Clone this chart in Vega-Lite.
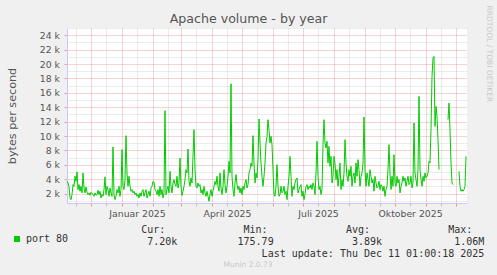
{
  "$schema": "https://vega.github.io/schema/vega-lite/v6.json",
  "width": 400,
  "height": 175,
  "autosize": {"type": "none"},
  "padding": {"left": 67, "top": 28, "right": 30, "bottom": 72},
  "background": "#f0f0f0",
  "config": {
    "view": {"fill": "#ffffff", "stroke": null},
    "font": "DejaVu Sans",
    "axis": {"labelFont": "DejaVu Sans", "labelFontSize": 9.3, "labelColor": "#555555", "titleFontWeight": "normal", "titleFont": "DejaVu Sans", "domainColor": "#c8c8f8", "domainWidth": 1}
  },
  "title": {"text": "Apache volume - by year", "fontSize": 12.6, "font": "DejaVu Sans", "fontWeight": "normal", "color": "#555555", "anchor": "middle", "frame": "group", "dx": -18.4, "offset": -31, "baseline": "alphabetic"},
  "data": {"values": [
{"date":"2024-11-07","bytes":3710},{"date":"2024-11-08","bytes":3480},{"date":"2024-11-09","bytes":3020},{"date":"2024-11-10","bytes":1400},{"date":"2024-11-11","bytes":1170},{"date":"2024-11-12","bytes":1870},{"date":"2024-11-13","bytes":3250},{"date":"2024-11-14","bytes":3020},{"date":"2024-11-15","bytes":4410},{"date":"2024-11-16","bytes":3710},{"date":"2024-11-17","bytes":5010},{"date":"2024-11-18","bytes":2560},{"date":"2024-11-19","bytes":3250},{"date":"2024-11-20","bytes":2330},{"date":"2024-11-21","bytes":3020},{"date":"2024-11-22","bytes":2100},{"date":"2024-11-23","bytes":4870},{"date":"2024-11-24","bytes":2790},{"date":"2024-11-25","bytes":2100},{"date":"2024-11-26","bytes":2930},{"date":"2024-11-27","bytes":2190},{"date":"2024-11-28","bytes":1870},{"date":"2024-11-29","bytes":2100},{"date":"2024-11-30","bytes":1770},
{"date":"2024-12-01","bytes":2190},{"date":"2024-12-02","bytes":2000},{"date":"2024-12-03","bytes":1870},{"date":"2024-12-04","bytes":1630},{"date":"2024-12-05","bytes":2100},{"date":"2024-12-06","bytes":1770},{"date":"2024-12-07","bytes":1870},{"date":"2024-12-08","bytes":2470},{"date":"2024-12-09","bytes":1870},{"date":"2024-12-10","bytes":2330},{"date":"2024-12-11","bytes":1400},{"date":"2024-12-12","bytes":1870},{"date":"2024-12-13","bytes":1630},{"date":"2024-12-14","bytes":2560},{"date":"2024-12-15","bytes":4320},{"date":"2024-12-16","bytes":1870},{"date":"2024-12-17","bytes":3020},{"date":"2024-12-18","bytes":2560},{"date":"2024-12-19","bytes":1630},{"date":"2024-12-20","bytes":2790},{"date":"2024-12-21","bytes":2100},{"date":"2024-12-22","bytes":1630},{"date":"2024-12-23","bytes":8480},{"date":"2024-12-24","bytes":1870},{"date":"2024-12-25","bytes":1170},{"date":"2024-12-26","bytes":1630},{"date":"2024-12-27","bytes":2560},{"date":"2024-12-28","bytes":2100},{"date":"2024-12-29","bytes":3020},{"date":"2024-12-30","bytes":1630},{"date":"2024-12-31","bytes":2560},
{"date":"2025-01-01","bytes":8110},{"date":"2025-01-02","bytes":3020},{"date":"2025-01-03","bytes":2560},{"date":"2025-01-04","bytes":3950},{"date":"2025-01-05","bytes":10050},{"date":"2025-01-06","bytes":4870},{"date":"2025-01-07","bytes":3020},{"date":"2025-01-08","bytes":4410},{"date":"2025-01-09","bytes":3020},{"date":"2025-01-10","bytes":2330},{"date":"2025-01-11","bytes":2560},{"date":"2025-01-12","bytes":2100},{"date":"2025-01-13","bytes":2330},{"date":"2025-01-14","bytes":1870},{"date":"2025-01-15","bytes":2100},{"date":"2025-01-16","bytes":1630},{"date":"2025-01-17","bytes":1870},{"date":"2025-01-18","bytes":1400},{"date":"2025-01-19","bytes":2100},{"date":"2025-01-20","bytes":1630},{"date":"2025-01-21","bytes":2330},{"date":"2025-01-22","bytes":2560},{"date":"2025-01-23","bytes":1630},{"date":"2025-01-24","bytes":2100},{"date":"2025-01-25","bytes":2560},{"date":"2025-01-26","bytes":1400},{"date":"2025-01-27","bytes":1870},{"date":"2025-01-28","bytes":2330},{"date":"2025-01-29","bytes":1630},{"date":"2025-01-30","bytes":2790},{"date":"2025-01-31","bytes":3020},
{"date":"2025-02-01","bytes":3710},{"date":"2025-02-02","bytes":3580},{"date":"2025-02-03","bytes":2560},{"date":"2025-02-04","bytes":2330},{"date":"2025-02-05","bytes":1870},{"date":"2025-02-06","bytes":2560},{"date":"2025-02-07","bytes":1630},{"date":"2025-02-08","bytes":3020},{"date":"2025-02-09","bytes":1870},{"date":"2025-02-10","bytes":2560},{"date":"2025-02-11","bytes":1400},{"date":"2025-02-12","bytes":2100},{"date":"2025-02-13","bytes":13520},{"date":"2025-02-14","bytes":1870},{"date":"2025-02-15","bytes":2560},{"date":"2025-02-16","bytes":3020},{"date":"2025-02-17","bytes":2100},{"date":"2025-02-18","bytes":5100},{"date":"2025-02-19","bytes":3020},{"date":"2025-02-20","bytes":2100},{"date":"2025-02-21","bytes":3480},{"date":"2025-02-22","bytes":3950},{"date":"2025-02-23","bytes":3250},{"date":"2025-02-24","bytes":3020},{"date":"2025-02-25","bytes":4410},{"date":"2025-02-26","bytes":2790},{"date":"2025-02-27","bytes":3480},{"date":"2025-02-28","bytes":6950},
{"date":"2025-03-01","bytes":3020},{"date":"2025-03-02","bytes":1730},{"date":"2025-03-03","bytes":2330},{"date":"2025-03-04","bytes":3020},{"date":"2025-03-05","bytes":3950},{"date":"2025-03-06","bytes":5330},{"date":"2025-03-07","bytes":4870},{"date":"2025-03-08","bytes":8200},{"date":"2025-03-09","bytes":3710},{"date":"2025-03-10","bytes":3020},{"date":"2025-03-11","bytes":4180},{"date":"2025-03-12","bytes":3480},{"date":"2025-03-13","bytes":7180},{"date":"2025-03-14","bytes":10880},{"date":"2025-03-15","bytes":5330},{"date":"2025-03-16","bytes":3020},{"date":"2025-03-17","bytes":2790},{"date":"2025-03-18","bytes":3480},{"date":"2025-03-19","bytes":3020},{"date":"2025-03-20","bytes":3250},{"date":"2025-03-21","bytes":2100},{"date":"2025-03-22","bytes":2560},{"date":"2025-03-23","bytes":1870},{"date":"2025-03-24","bytes":3020},{"date":"2025-03-25","bytes":2100},{"date":"2025-03-26","bytes":1630},{"date":"2025-03-27","bytes":2330},{"date":"2025-03-28","bytes":1630},{"date":"2025-03-29","bytes":940},{"date":"2025-03-30","bytes":1870},{"date":"2025-03-31","bytes":2560},
{"date":"2025-04-01","bytes":1630},{"date":"2025-04-02","bytes":2330},{"date":"2025-04-03","bytes":3020},{"date":"2025-04-04","bytes":3710},{"date":"2025-04-05","bytes":3250},{"date":"2025-04-06","bytes":4410},{"date":"2025-04-07","bytes":3020},{"date":"2025-04-08","bytes":2330},{"date":"2025-04-09","bytes":4870},{"date":"2025-04-10","bytes":2790},{"date":"2025-04-11","bytes":1870},{"date":"2025-04-12","bytes":3020},{"date":"2025-04-13","bytes":5330},{"date":"2025-04-14","bytes":3250},{"date":"2025-04-15","bytes":2100},{"date":"2025-04-16","bytes":3020},{"date":"2025-04-17","bytes":4410},{"date":"2025-04-18","bytes":6490},{"date":"2025-04-19","bytes":4870},{"date":"2025-04-20","bytes":17260},{"date":"2025-04-21","bytes":4410},{"date":"2025-04-22","bytes":2560},{"date":"2025-04-23","bytes":1630},{"date":"2025-04-24","bytes":3480},{"date":"2025-04-25","bytes":4640},{"date":"2025-04-26","bytes":3250},{"date":"2025-04-27","bytes":2560},{"date":"2025-04-28","bytes":3020},{"date":"2025-04-29","bytes":2100},{"date":"2025-04-30","bytes":2790},
{"date":"2025-05-01","bytes":1870},{"date":"2025-05-02","bytes":3020},{"date":"2025-05-03","bytes":2560},{"date":"2025-05-04","bytes":3480},{"date":"2025-05-05","bytes":3950},{"date":"2025-05-06","bytes":2790},{"date":"2025-05-07","bytes":3250},{"date":"2025-05-08","bytes":4870},{"date":"2025-05-09","bytes":5330},{"date":"2025-05-10","bytes":6260},{"date":"2025-05-11","bytes":5790},{"date":"2025-05-12","bytes":10050},{"date":"2025-05-13","bytes":6260},{"date":"2025-05-14","bytes":3480},{"date":"2025-05-15","bytes":4870},{"date":"2025-05-16","bytes":4180},{"date":"2025-05-17","bytes":6720},{"date":"2025-05-18","bytes":12360},{"date":"2025-05-19","bytes":9030},{"date":"2025-05-20","bytes":6260},{"date":"2025-05-21","bytes":4410},{"date":"2025-05-22","bytes":3020},{"date":"2025-05-23","bytes":4410},{"date":"2025-05-24","bytes":6260},{"date":"2025-05-25","bytes":9030},{"date":"2025-05-26","bytes":9960},{"date":"2025-05-27","bytes":12270},{"date":"2025-05-28","bytes":10880},{"date":"2025-05-29","bytes":9030},{"date":"2025-05-30","bytes":9960},{"date":"2025-05-31","bytes":8800},
{"date":"2025-06-01","bytes":5330},{"date":"2025-06-02","bytes":1870},{"date":"2025-06-03","bytes":1630},{"date":"2025-06-04","bytes":3020},{"date":"2025-06-05","bytes":6030},{"date":"2025-06-06","bytes":3020},{"date":"2025-06-07","bytes":1630},{"date":"2025-06-08","bytes":1870},{"date":"2025-06-09","bytes":3020},{"date":"2025-06-10","bytes":2100},{"date":"2025-06-11","bytes":2330},{"date":"2025-06-12","bytes":3020},{"date":"2025-06-13","bytes":1870},{"date":"2025-06-14","bytes":2330},{"date":"2025-06-15","bytes":1170},{"date":"2025-06-16","bytes":3020},{"date":"2025-06-17","bytes":4410},{"date":"2025-06-18","bytes":7180},{"date":"2025-06-19","bytes":4410},{"date":"2025-06-20","bytes":1630},{"date":"2025-06-21","bytes":3020},{"date":"2025-06-22","bytes":2560},{"date":"2025-06-23","bytes":3480},{"date":"2025-06-24","bytes":3950},{"date":"2025-06-25","bytes":4180},{"date":"2025-06-26","bytes":2100},{"date":"2025-06-27","bytes":2560},{"date":"2025-06-28","bytes":3020},{"date":"2025-06-29","bytes":3250},{"date":"2025-06-30","bytes":1630},
{"date":"2025-07-01","bytes":2330},{"date":"2025-07-02","bytes":1170},{"date":"2025-07-03","bytes":1870},{"date":"2025-07-04","bytes":3020},{"date":"2025-07-05","bytes":3250},{"date":"2025-07-06","bytes":2560},{"date":"2025-07-07","bytes":3020},{"date":"2025-07-08","bytes":2790},{"date":"2025-07-09","bytes":3250},{"date":"2025-07-10","bytes":2560},{"date":"2025-07-11","bytes":3480},{"date":"2025-07-12","bytes":3020},{"date":"2025-07-13","bytes":1870},{"date":"2025-07-14","bytes":4870},{"date":"2025-07-15","bytes":9260},{"date":"2025-07-16","bytes":4410},{"date":"2025-07-17","bytes":2560},{"date":"2025-07-18","bytes":3020},{"date":"2025-07-19","bytes":1870},{"date":"2025-07-20","bytes":2560},{"date":"2025-07-21","bytes":8800},{"date":"2025-07-22","bytes":12270},{"date":"2025-07-23","bytes":9030},{"date":"2025-07-24","bytes":8340},{"date":"2025-07-25","bytes":9260},{"date":"2025-07-26","bytes":6260},{"date":"2025-07-27","bytes":8570},{"date":"2025-07-28","bytes":5790},{"date":"2025-07-29","bytes":7180},{"date":"2025-07-30","bytes":3480},{"date":"2025-07-31","bytes":4410},
{"date":"2025-08-01","bytes":7180},{"date":"2025-08-02","bytes":6260},{"date":"2025-08-03","bytes":3950},{"date":"2025-08-04","bytes":5330},{"date":"2025-08-05","bytes":3020},{"date":"2025-08-06","bytes":4410},{"date":"2025-08-07","bytes":6260},{"date":"2025-08-08","bytes":2560},{"date":"2025-08-09","bytes":3950},{"date":"2025-08-10","bytes":3020},{"date":"2025-08-11","bytes":4870},{"date":"2025-08-12","bytes":9490},{"date":"2025-08-13","bytes":6260},{"date":"2025-08-14","bytes":4410},{"date":"2025-08-15","bytes":3710},{"date":"2025-08-16","bytes":5330},{"date":"2025-08-17","bytes":4410},{"date":"2025-08-18","bytes":5790},{"date":"2025-08-19","bytes":3020},{"date":"2025-08-20","bytes":4410},{"date":"2025-08-21","bytes":4870},{"date":"2025-08-22","bytes":3480},{"date":"2025-08-23","bytes":6260},{"date":"2025-08-24","bytes":4410},{"date":"2025-08-25","bytes":6720},{"date":"2025-08-26","bytes":5330},{"date":"2025-08-27","bytes":3020},{"date":"2025-08-28","bytes":4410},{"date":"2025-08-29","bytes":4870},{"date":"2025-08-30","bytes":6260},{"date":"2025-08-31","bytes":12640},
{"date":"2025-09-01","bytes":5330},{"date":"2025-09-02","bytes":3020},{"date":"2025-09-03","bytes":4870},{"date":"2025-09-04","bytes":3950},{"date":"2025-09-05","bytes":3020},{"date":"2025-09-06","bytes":5330},{"date":"2025-09-07","bytes":4410},{"date":"2025-09-08","bytes":3480},{"date":"2025-09-09","bytes":3950},{"date":"2025-09-10","bytes":2330},{"date":"2025-09-11","bytes":4410},{"date":"2025-09-12","bytes":3480},{"date":"2025-09-13","bytes":2790},{"date":"2025-09-14","bytes":3020},{"date":"2025-09-15","bytes":3710},{"date":"2025-09-16","bytes":2560},{"date":"2025-09-17","bytes":3250},{"date":"2025-09-18","bytes":3020},{"date":"2025-09-19","bytes":2330},{"date":"2025-09-20","bytes":3020},{"date":"2025-09-21","bytes":1630},{"date":"2025-09-22","bytes":2560},{"date":"2025-09-23","bytes":3020},{"date":"2025-09-24","bytes":5330},{"date":"2025-09-25","bytes":8800},{"date":"2025-09-26","bytes":4870},{"date":"2025-09-27","bytes":2560},{"date":"2025-09-28","bytes":4410},{"date":"2025-09-29","bytes":3020},{"date":"2025-09-30","bytes":7410},
{"date":"2025-10-01","bytes":3480},{"date":"2025-10-02","bytes":3020},{"date":"2025-10-03","bytes":4410},{"date":"2025-10-04","bytes":3480},{"date":"2025-10-05","bytes":3950},{"date":"2025-10-06","bytes":2100},{"date":"2025-10-07","bytes":3020},{"date":"2025-10-08","bytes":3480},{"date":"2025-10-09","bytes":4410},{"date":"2025-10-10","bytes":3710},{"date":"2025-10-11","bytes":4180},{"date":"2025-10-12","bytes":3020},{"date":"2025-10-13","bytes":3710},{"date":"2025-10-14","bytes":4410},{"date":"2025-10-15","bytes":3250},{"date":"2025-10-16","bytes":3480},{"date":"2025-10-17","bytes":4410},{"date":"2025-10-18","bytes":2790},{"date":"2025-10-19","bytes":3480},{"date":"2025-10-20","bytes":11810},{"date":"2025-10-21","bytes":4870},{"date":"2025-10-22","bytes":3950},{"date":"2025-10-23","bytes":3020},{"date":"2025-10-24","bytes":5330},{"date":"2025-10-25","bytes":15500},{"date":"2025-10-26","bytes":5330},{"date":"2025-10-27","bytes":3950},{"date":"2025-10-28","bytes":3020},{"date":"2025-10-29","bytes":4410},{"date":"2025-10-30","bytes":3710},{"date":"2025-10-31","bytes":4870},
{"date":"2025-11-01","bytes":4180},{"date":"2025-11-02","bytes":4410},{"date":"2025-11-03","bytes":4870},{"date":"2025-11-04","bytes":6490},{"date":"2025-11-05","bytes":6260},{"date":"2025-11-06","bytes":10880},{"date":"2025-11-07","bytes":18280},{"date":"2025-11-08","bytes":20820},{"date":"2025-11-09","bytes":21050},{"date":"2025-11-10","bytes":11340},{"date":"2025-11-11","bytes":14120},{"date":"2025-11-12","bytes":12730},{"date":"2025-11-13","bytes":9490},{"date":"2025-11-14","bytes":5330},{"date":"2025-11-18","bytes":null},{"date":"2025-11-23","bytes":12270},{"date":"2025-11-24","bytes":14580},{"date":"2025-11-25","bytes":10880},{"date":"2025-11-26","bytes":6260},{"date":"2025-11-27","bytes":3480},{"date":"2025-11-28","bytes":3250},
{"date":"2025-12-01","bytes":null},{"date":"2025-12-04","bytes":5100},{"date":"2025-12-05","bytes":3020},{"date":"2025-12-06","bytes":2330},{"date":"2025-12-07","bytes":2560},{"date":"2025-12-08","bytes":2330},{"date":"2025-12-09","bytes":2560},{"date":"2025-12-10","bytes":3020},{"date":"2025-12-11","bytes":7180}
  ]},
  "layer": [
    {
      "mark": {"type": "line", "strokeWidth": 1, "invalid": "break-paths-show-domains"},
      "encoding": {
        "x": {"field": "date", "type": "temporal",
          "scale": {"domain": [{"year": 2024, "month": 11, "date": 7, "utc": true}, {"year": 2025, "month": 12, "date": 12, "utc": true}]},
          "axis": {"orient": "bottom",
            "values": [{"year": 2024, "month": 12, "date": 1, "utc": true}, {"year": 2025, "month": 1, "date": 1, "utc": true}, {"year": 2025, "month": 2, "date": 1, "utc": true}, {"year": 2025, "month": 3, "date": 1, "utc": true}, {"year": 2025, "month": 4, "date": 1, "utc": true}, {"year": 2025, "month": 5, "date": 1, "utc": true}, {"year": 2025, "month": 6, "date": 1, "utc": true}, {"year": 2025, "month": 7, "date": 1, "utc": true}, {"year": 2025, "month": 8, "date": 1, "utc": true}, {"year": 2025, "month": 9, "date": 1, "utc": true}, {"year": 2025, "month": 10, "date": 1, "utc": true}, {"year": 2025, "month": 11, "date": 1, "utc": true}, {"year": 2025, "month": 12, "date": 1, "utc": true}],
            "grid": true, "gridColor": "#e05050", "gridOpacity": 0.5, "gridDash": [1, 1],
            "ticks": true, "tickColor": "#e05050", "tickOpacity": 0.6, "tickSize": 3,
            "labels": false, "domain": true,
            "title": "Munin 2.0.73", "titleFontSize": 7.5, "titleColor": "#c8c8c8", "titleX": 180.5, "titleY": 61, "titleAlign": "center", "titleBaseline": "middle"}},
        "y": {"field": "bytes", "type": "quantitative",
          "scale": {"domain": [700, 25000], "nice": false, "zero": false},
          "axis": {"orient": "left", "values": [2000, 4000, 6000, 8000, 10000, 12000, 14000, 16000, 18000, 20000, 22000, 24000],
            "labelExpr": "datum.value / 1000 + ' k'",
            "grid": true, "gridColor": "#e05050", "gridOpacity": 0.5, "gridDash": [1, 1],
            "ticks": true, "tickColor": "#e05050", "tickOpacity": 0.5, "tickSize": 3, "labelPadding": 4.5,
            "domain": true,
            "title": "bytes per second", "titleFontSize": 11.2, "titleColor": "#555555", "titleAngle": 270, "titleX": -52, "titleY": 87.5, "titleAlign": "center", "titleBaseline": "alphabetic"}},
        "color": {"datum": "port 80", "type": "nominal", "scale": {"range": ["#00cc00"]},
          "legend": {"orient": "none", "legendX": -55, "legendY": 206, "title": null, "padding": 0, "symbolType": "square", "symbolSize": 36, "symbolFillColor": "#00cc00", "symbolStrokeColor": "#00cc00", "symbolStrokeWidth": 0, "labelFont": "DejaVu Sans Mono", "labelFontSize": 10, "labelColor": "#333333", "labelOffset": 4}}
      }
    },
    {
      "mark": {"type": "line", "opacity": 0, "invalid": "break-paths-show-domains"},
      "encoding": {
        "x": {"field": "date", "type": "temporal",
          "axis": {"orient": "bottom",
            "values": [{"year": 2024, "month": 11, "date": 16, "utc": true}, {"year": 2024, "month": 12, "date": 16, "utc": true}, {"year": 2025, "month": 1, "date": 16, "utc": true}, {"year": 2025, "month": 2, "date": 16, "utc": true}, {"year": 2025, "month": 3, "date": 16, "utc": true}, {"year": 2025, "month": 4, "date": 16, "utc": true}, {"year": 2025, "month": 5, "date": 16, "utc": true}, {"year": 2025, "month": 6, "date": 16, "utc": true}, {"year": 2025, "month": 7, "date": 16, "utc": true}, {"year": 2025, "month": 8, "date": 16, "utc": true}, {"year": 2025, "month": 9, "date": 16, "utc": true}, {"year": 2025, "month": 10, "date": 16, "utc": true}, {"year": 2025, "month": 11, "date": 16, "utc": true}],
            "labelExpr": "utcmonth(datum.value) % 3 == 0 ? ['Januar','','','April','','','Juli','','','Oktober','',''][utcmonth(datum.value)] + ' ' + utcyear(datum.value) : ''",
            "labelOverlap": false, "labelFlush": false, "labelBound": false, "labelPadding": 3,
            "grid": true, "gridColor": "#c0c0c0", "gridOpacity": 0.6, "gridDash": [1, 1],
            "ticks": true, "tickColor": "#c0c0c0", "tickSize": 3,
            "domain": false,
            "title": ["Cur:\u00a0\u00a0\u00a0\u00a0\u00a0\u00a0\u00a0\u00a0\u00a0\u00a0\u00a0\u00a0\u00a0Min:\u00a0\u00a0\u00a0\u00a0\u00a0\u00a0\u00a0\u00a0\u00a0\u00a0\u00a0\u00a0\u00a0Avg:\u00a0\u00a0\u00a0\u00a0\u00a0\u00a0\u00a0\u00a0\u00a0\u00a0\u00a0\u00a0\u00a0Max:",
                      "\u200b\u00a07.20k\u00a0\u00a0\u00a0\u00a0\u00a0\u00a0\u00a0\u00a0\u00a0\u00a0175.79\u00a0\u00a0\u00a0\u00a0\u00a0\u00a0\u00a0\u00a0\u00a0\u00a0\u00a0\u00a0\u00a03.89k\u00a0\u00a0\u00a0\u00a0\u00a0\u00a0\u00a0\u00a0\u00a0\u00a0\u00a0\u00a01.06M",
                      "\u200b\u00a0\u00a0\u00a0\u00a0\u00a0\u00a0\u00a0\u00a0\u00a0\u00a0\u00a0\u00a0\u00a0\u00a0\u00a0\u00a0\u00a0\u00a0\u00a0\u00a0Last update: Thu Dec 11 01:00:18 2025"],
            "titleFont": "DejaVu Sans Mono", "titleFontSize": 10, "titleColor": "#333333", "titleLineHeight": 12,
            "titleX": 73.7, "titleY": 21, "titleAlign": "left", "titleBaseline": "top"}},
        "y": {"field": "bytes", "type": "quantitative",
          "axis": {"orient": "right", "values": [1000, 3000, 5000, 7000, 9000, 11000, 13000, 15000, 17000, 19000, 21000, 23000, 25000],
            "grid": true, "gridColor": "#c0c0c0", "gridOpacity": 0.6, "gridDash": [1, 1],
            "ticks": false, "labels": false, "domain": false,
            "title": "RRDTOOL / TOBI OETIKER", "titleFontSize": 7.5, "titleColor": "#c8c8c8", "titleAngle": 90, "titleX": 21.5, "titleY": -23, "titleAlign": "left", "titleBaseline": "middle"}}
      }
    }
  ],
  "resolve": {"axis": {"x": "independent", "y": "independent"}}
}
